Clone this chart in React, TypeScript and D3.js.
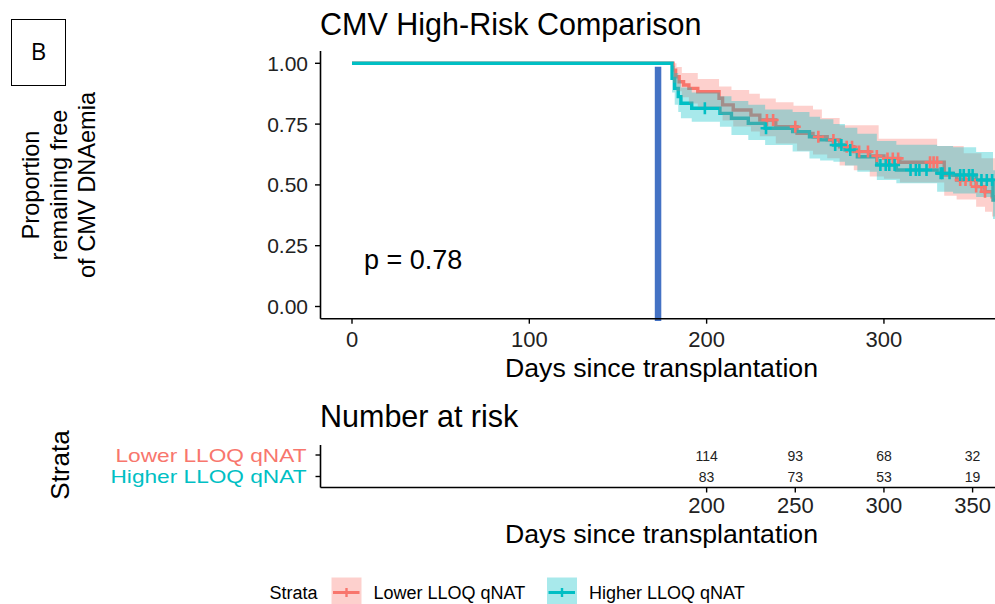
import React from "react";
import * as d3 from "d3";

const titleText = "CMV High-Risk Comparison";
const xTicks = [0, 100, 200, 300];
const yTicks = [0, 0.25, 0.5, 0.75, 1];
const strataNames = ["Lower LLOQ qNAT", "Higher LLOQ qNAT"];
const strataColors = ["#F8766D", "#00BFC4"];
const pValueText = "p = 0.78";
const cutoffDay = 172.6;
const endDay = 363;

// Kaplan-Meier steps [day, survival]
const lowerSteps: [number, number][] = [
  [0, 1], [181, 0.972], [182.5, 0.945], [184.5, 0.924], [187, 0.911], [190, 0.897],
  [195, 0.883], [207, 0.856], [209, 0.829], [215, 0.808], [225, 0.787], [230, 0.767],
  [239, 0.739], [251, 0.712], [260, 0.698], [268, 0.685], [275, 0.657], [283, 0.637],
  [292, 0.619], [300, 0.609], [309, 0.593], [334, 0.541], [341, 0.52], [352, 0.493],
  [357, 0.472], [361, 0.451],
];
const higherSteps: [number, number][] = [
  [0, 1], [180.5, 0.938], [182, 0.897], [184, 0.863], [185.5, 0.836], [191.6, 0.815],
  [207.5, 0.794], [214, 0.774], [223.5, 0.753], [233, 0.733], [248.5, 0.719], [258, 0.698],
  [264, 0.685], [271.5, 0.664], [278, 0.644], [285, 0.616], [296, 0.582], [307, 0.561],
  [330, 0.548], [339, 0.541], [352, 0.52], [361.5, 0.438],
];
// confidence band edges [day, value]
const lowerUpperBand: [number, number][] = [
  [0, 1], [183, 0.985], [186, 0.96], [195, 0.935], [207, 0.905], [214, 0.89], [224, 0.875],
  [230, 0.855], [239, 0.84], [249, 0.825], [260, 0.81], [265, 0.775], [275, 0.745],
  [297, 0.69], [330, 0.66], [345, 0.63], [355, 0.61],
];
const lowerLowerBand: [number, number][] = [
  [0, 1], [181, 0.92], [183, 0.885], [186, 0.86], [190, 0.835], [195, 0.82], [207, 0.79],
  [209, 0.765], [215, 0.74], [225, 0.72], [230, 0.7], [239, 0.67], [251, 0.64], [260, 0.625],
  [268, 0.61], [275, 0.58], [283, 0.56], [292, 0.535], [300, 0.525], [309, 0.51],
  [334, 0.455], [341, 0.44], [352, 0.41], [357, 0.39], [361, 0.37],
];
const higherUpperBand: [number, number][] = [
  [0, 1], [180.5, 0.99], [182, 0.96], [184, 0.93], [185.5, 0.9], [191.6, 0.88], [207.5, 0.865],
  [214, 0.845], [223.5, 0.83], [233, 0.81], [248.5, 0.8], [258, 0.78], [264, 0.77],
  [271.5, 0.75], [278, 0.735], [285, 0.71], [296, 0.68], [307, 0.665], [330, 0.66],
  [339, 0.655], [352, 0.635], [361.5, 0.56],
];
const higherLowerBand: [number, number][] = [
  [0, 1], [180.5, 0.88], [182, 0.83], [184, 0.8], [185.5, 0.774], [191.6, 0.76], [207.5, 0.739],
  [214, 0.705], [223.5, 0.685], [233, 0.664], [248.5, 0.637], [258, 0.609], [264, 0.6],
  [271.5, 0.595], [278, 0.58], [285, 0.554], [296, 0.52], [307, 0.507], [330, 0.472],
  [339, 0.465], [352, 0.45], [361.5, 0.36],
];
const lowerCensor = [234, 237.5, 250, 263, 271.5, 279, 282, 286, 291, 296, 302, 305, 308, 326, 328, 330, 343, 346, 349, 352, 355, 357];
const higherCensor = [199, 233.5, 272.5, 276, 281, 298, 301, 303, 306, 315, 318, 320, 324, 332, 333, 337, 343, 345, 348, 350, 355, 358, 361];

const riskDays = [200, 250, 300, 350];
const lowerRisk = [114, 93, 68, 32];
const higherRisk = [83, 73, 53, 19];

const FONT = "'Liberation Sans', Arial, Helvetica, sans-serif";

function stepAt(steps: [number, number][], t: number) {
  let v = steps[0][1];
  for (const [d, s] of steps) {
    if (d <= t) v = s;
    else break;
  }
  return v;
}

export default function App() {
  const W = 995, H = 604;
  const x = d3.scaleLinear().domain([0, 350]).range([352, 972.6]);
  const y = d3.scaleLinear().domain([0, 1]).range([306.5, 63.3]);
  const plotLeft = 320.5, plotBottom = 318.7, plotTop = 51;

  const line = d3.line<[number, number]>()
    .x((d) => x(d[0]))
    .y((d) => y(d[1]))
    .curve(d3.curveStepAfter);

  const withEnd = (s: [number, number][]) => [...s, [endDay, s[s.length - 1][1]] as [number, number]];

  const band = (up: [number, number][], lo: [number, number][]) => {
    const days = Array.from(new Set([...up.map((d) => d[0]), ...lo.map((d) => d[0]), endDay])).sort((a, b) => a - b);
    const pts = days.map((d) => ({ d, u: stepAt(up, d), l: stepAt(lo, d) }));
    return d3.area<{ d: number; u: number; l: number }>()
      .x((p) => x(p.d))
      .y0((p) => y(p.l))
      .y1((p) => y(p.u))
      .curve(d3.curveStepAfter)(pts) || "";
  };

  const groups = [
    { steps: lowerSteps, up: lowerUpperBand, lo: lowerLowerBand, cens: lowerCensor, color: strataColors[0] },
    { steps: higherSteps, up: higherUpperBand, lo: higherLowerBand, cens: higherCensor, color: strataColors[1] },
  ];

  const cross = (cx: number, cy: number, color: string, key: string) => (
    <g key={key} stroke={color} strokeWidth={2.6}>
      <line x1={cx} x2={cx} y1={cy - 6} y2={cy + 6} />
      <line x1={cx - 5.5} x2={cx + 5.5} y1={cy} y2={cy} />
    </g>
  );

  const yLabelLines = ["Proportion", "remaining free", "of CMV DNAemia"];
  const yLabelX = [39, 67, 95];

  const rowY = [455, 476.5];
  const riskRows = [lowerRisk, higherRisk];
  const tableAxisY = 487.5;
  const labelWidths = [191, 196];

  return (
    <svg width={W} height={H} style={{ position: "fixed", left: 0, top: 0, background: "#fff" }} fontFamily={FONT}>
      <rect x={0} y={0} width={W} height={H} fill="#fff" />
      <defs>
        <clipPath id="plotclip">
          <rect x={plotLeft} y={40} width={W - plotLeft} height={plotBottom - 40} />
        </clipPath>
      </defs>

      {/* B panel label */}
      <rect x={11.5} y={19.5} width={54} height={66} fill="#fff" stroke="#000" strokeWidth={1} />
      <text x={38.5} y={60} fontSize={24} textAnchor="middle" fill="#000" fontFamily="'Open Sans', 'Liberation Sans', sans-serif">B</text>

      {/* title */}
      <text x={320} y={35} fontSize={30.5} fill="#000">{titleText}</text>

      {/* y label */}
      {yLabelLines.map((t, i) => (
        <text key={t} transform={`translate(${yLabelX[i]},185) rotate(-90)`} textAnchor="middle" fontSize={23.6} fill="#000">{t}</text>
      ))}

      {/* curves */}
      <g clipPath="url(#plotclip)">
        {groups.map((g, i) => (
          <path key={"l" + i} d={line(withEnd(g.steps)) || ""} fill="none" stroke={g.color} strokeWidth={3.4} />
        ))}
        {groups.map((g, i) => (
          <path key={"b" + i} d={band(g.up, g.lo)} fill={g.color} fillOpacity={0.34} stroke="none" />
        ))}
        {groups.map((g, i) => g.cens.map((c, j) => cross(x(c), y(stepAt(g.steps, c)), g.color, `c${i}-${j}`)))}
      </g>

      {/* cutoff vertical line */}
      <line x1={x(cutoffDay)} x2={x(cutoffDay)} y1={y(1) + 3.5} y2={321} stroke="#4472C4" strokeWidth={6.5} />

      {/* axes */}
      <line x1={plotLeft} x2={plotLeft} y1={plotTop} y2={plotBottom} stroke="#000" strokeWidth={1.6} />
      <line x1={plotLeft} x2={W} y1={plotBottom} y2={plotBottom} stroke="#000" strokeWidth={1.6} />
      {yTicks.map((t) => (
        <g key={"yt" + t}>
          <line x1={plotLeft - 5.5} x2={plotLeft} y1={y(t)} y2={y(t)} stroke="#000" strokeWidth={1.4} />
          <text x={308} y={y(t)} dy="0.36em" textAnchor="end" fontSize={21} fill="#222">{d3.format(".2f")(t)}</text>
        </g>
      ))}
      {xTicks.map((t) => (
        <g key={"xt" + t}>
          <line x1={x(t)} x2={x(t)} y1={plotBottom} y2={plotBottom + 5} stroke="#000" strokeWidth={1.4} />
          <text x={x(t)} y={347} textAnchor="middle" fontSize={22} fill="#222">{t}</text>
        </g>
      ))}
      <text x={661.5} y={377} textAnchor="middle" fontSize={26.7} fill="#000">Days since transplantation</text>

      <text x={364} y={269} fontSize={27} fill="#000">{pValueText}</text>

      {/* risk table */}
      <text x={320} y={427} fontSize={30.5} fill="#000">Number at risk</text>
      <text transform="translate(69,465) rotate(-90)" textAnchor="middle" fontSize={26} fill="#000">Strata</text>
      <line x1={plotLeft} x2={plotLeft} y1={445} y2={tableAxisY} stroke="#000" strokeWidth={1.6} />
      <line x1={plotLeft} x2={W} y1={tableAxisY} y2={tableAxisY} stroke="#000" strokeWidth={1.6} />
      {strataNames.map((s, i) => (
        <g key={s}>
          <line x1={plotLeft - 5} x2={plotLeft} y1={rowY[i]} y2={rowY[i]} stroke="#000" strokeWidth={1.4} />
          <text x={306.5} y={rowY[i]} dy="0.36em" textAnchor="end" fontSize={18.5} textLength={labelWidths[i]} lengthAdjust="spacingAndGlyphs" fill={strataColors[i]}>{s}</text>
          {riskRows[i].map((n, j) => (
            <text key={j} x={x(riskDays[j])} y={rowY[i]} dy="0.4em" textAnchor="middle" fontSize={14} fill="#222">{n}</text>
          ))}
        </g>
      ))}
      {riskDays.map((t) => (
        <g key={"rt" + t}>
          <line x1={x(t)} x2={x(t)} y1={tableAxisY} y2={tableAxisY + 5} stroke="#000" strokeWidth={1.4} />
          <text x={x(t)} y={513} textAnchor="middle" fontSize={22} fill="#222">{t}</text>
        </g>
      ))}
      <text x={661.5} y={543} textAnchor="middle" fontSize={26.7} fill="#000">Days since transplantation</text>

      {/* legend */}
      <text x={269.5} y={599} fontSize={18} fill="#000">Strata</text>
      {strataNames.map((s, i) => {
        const bx = [331.5, 547][i];
        const tx = [373.5, 589][i];
        return (
          <g key={"lg" + s}>
            <rect x={bx} y={577.5} width={30} height={30} fill={strataColors[i]} fillOpacity={0.34} />
            <line x1={bx + 1.5} x2={bx + 28} y1={592.5} y2={592.5} stroke={strataColors[i]} strokeWidth={3} />
            <line x1={bx + 15} x2={bx + 15} y1={588} y2={597} stroke={strataColors[i]} strokeWidth={2.4} />
            <text x={tx} y={599} fontSize={18} fill="#000">{s}</text>
          </g>
        );
      })}
    </svg>
  );
}
